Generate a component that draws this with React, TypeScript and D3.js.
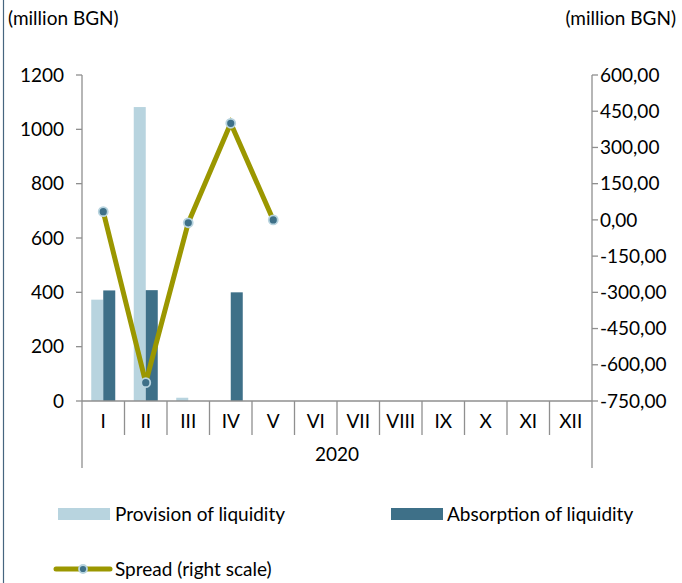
import * as d3 from 'd3';

const months = ['I', 'II', 'III', 'IV', 'V', 'VI', 'VII', 'VIII', 'IX', 'X', 'XI', 'XII'];
const provision = [373, 1082, 12, 0, 0];
const absorption = [407, 408, 0, 400, 0];
const spread = [34, -674, -12, 400, 0];
const leftTicks = [0, 200, 400, 600, 800, 1000, 1200];
const rightTicks = [600, 450, 300, 150, 0, -150, -300, -450, -600, -750];
const yearLabel = '2020';

const W = 682;
const H = 583;
const FONT = 'Lato, "Open Sans", sans-serif';
const FS = 19;
const AXIS = '#8f8f8f';
const C_PROV = '#b8d4df';
const C_ABS = '#3e7088';
const C_LINE = '#9b9700';

export default function App() {
  const left = 82, right = 592, top = 75, bottom = 401;

  const x = d3.scaleBand<string>().domain(months).range([left, right]);
  const bw = x.bandwidth();
  const xs = d3.scaleBand<string>().domain(['p', 'a']).range([0, bw]).paddingOuter(0.77).paddingInner(0);
  const yL = d3.scaleLinear().domain([0, 1200]).range([bottom, top]);
  const yR = d3.scaleLinear().domain([-750, 600]).range([bottom, top]);

  const fmt = (v: number) => d3.format('.2f')(v).replace('.', ',').replace('−', '-');

  const line = d3.line<number>()
    .x((_, i) => (x(months[i]) as number) + bw / 2)
    .y(d => yR(d));

  return (
    <div style={{ position: 'fixed', left: 0, top: 0 }}>
      <svg width={W} height={H} style={{ display: 'block', background: '#fff', fontFamily: FONT }}>
        <line x1={3.5} x2={3.5} y1={0} y2={H} stroke="#46657f" strokeWidth={1.2} />

        <text x={8} y={18} dy="0.35em" fontSize={FS} fill="#000">(million BGN)</text>
        <text x={676} y={18} dy="0.35em" fontSize={FS} fill="#000" textAnchor="end">(million BGN)</text>

        {/* bars */}
        {provision.map((v, i) => (
          <rect key={'p' + i} x={(x(months[i]) as number) + (xs('p') as number)} width={xs.bandwidth()}
            y={yL(v)} height={bottom - yL(v)} fill={C_PROV} />
        ))}
        {absorption.map((v, i) => (
          <rect key={'a' + i} x={(x(months[i]) as number) + (xs('a') as number)} width={xs.bandwidth()}
            y={yL(v)} height={bottom - yL(v)} fill={C_ABS} />
        ))}

        {/* left axis */}
        <line x1={left} x2={left} y1={top} y2={468} stroke={AXIS} strokeWidth={1.3} />
        {leftTicks.map(t => (
          <g key={t}>
            <line x1={left - 6} x2={left} y1={yL(t)} y2={yL(t)} stroke={AXIS} strokeWidth={1.3} />
            <text x={64} y={yL(t)} dy="0.35em" textAnchor="end" fontSize={FS}>{t}</text>
          </g>
        ))}

        {/* right axis */}
        <line x1={right} x2={right} y1={top} y2={468} stroke={AXIS} strokeWidth={1.3} />
        {rightTicks.map(t => (
          <g key={t}>
            <line x1={right} x2={right + 6} y1={yR(t)} y2={yR(t)} stroke={AXIS} strokeWidth={1.3} />
            <text x={600} y={yR(t)} dy="0.35em" fontSize={FS}>{fmt(t)}</text>
          </g>
        ))}

        {/* category axis */}
        <line x1={left} x2={right} y1={bottom} y2={bottom} stroke={AXIS} strokeWidth={1.3} />
        {months.map((m, i) => (
          <g key={m}>
            {i > 0 && <line x1={x(m)} x2={x(m)} y1={bottom} y2={435} stroke={AXIS} strokeWidth={1.3} />}
            <text x={(x(m) as number) + bw / 2} y={421} dy="0.35em" textAnchor="middle" fontSize={FS}>{m}</text>
          </g>
        ))}
        <text x={(left + right) / 2} y={454} dy="0.35em" textAnchor="middle" fontSize={FS}>{yearLabel}</text>

        {/* spread line */}
        <path d={line(spread) || ''} fill="none" stroke={C_LINE} strokeWidth={5} strokeLinejoin="miter" />
        {spread.map((v, i) => (
          <circle key={i} cx={(x(months[i]) as number) + bw / 2} cy={yR(v)} r={4.5}
            fill={C_ABS} stroke={C_PROV} strokeWidth={1.8} />
        ))}

        {/* legend */}
        <rect x={58} y={508} width={52} height={12} fill={C_PROV} />
        <text x={115} y={514} dy="0.35em" fontSize={FS}>Provision of liquidity</text>
        <rect x={391} y={508} width={52} height={12} fill={C_ABS} />
        <text x={447} y={514} dy="0.35em" fontSize={FS}>Absorption of liquidity</text>
        <line x1={56} x2={110} y1={569} y2={569} stroke={C_LINE} strokeWidth={5} strokeLinecap="round" />
        <circle cx={83} cy={569} r={4} fill={C_ABS} stroke={C_PROV} strokeWidth={1.8} />
        <text x={115} y={569} dy="0.35em" fontSize={FS}>Spread (right scale)</text>
      </svg>
    </div>
  );
}
